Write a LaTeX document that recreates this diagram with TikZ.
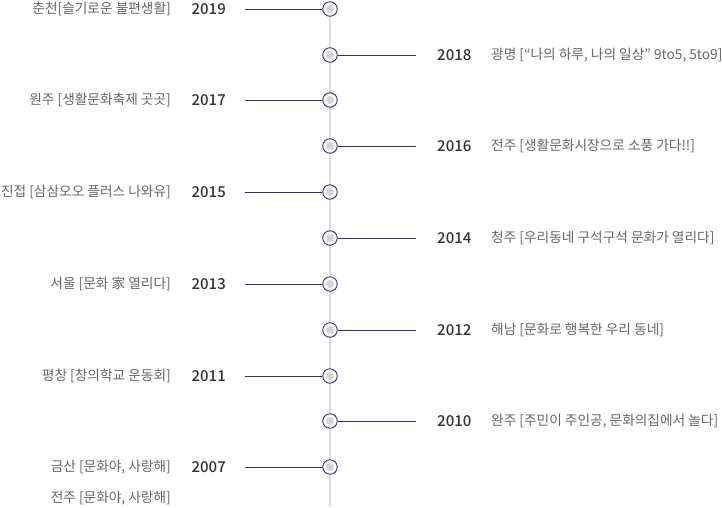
\documentclass[tikz,border=0pt]{standalone}
\usepackage{fontspec}
\setmainfont{Noto Sans CJK KR}
\newfontfamily\yearfont{Noto Sans CJK KR Medium}
\definecolor{navy}{HTML}{2E2F80}
\definecolor{txtgray}{HTML}{666666}
\definecolor{yrdark}{HTML}{333333}
\definecolor{axisgray}{HTML}{DDDDDD}
\definecolor{dotgray}{HTML}{D5D5D5}
\tikzset{
  x=1pt,y=-1pt,
  yearlbl/.style={font=\yearfont\fontsize{15}{15}\selectfont, text=yrdark, inner sep=0pt},
  desclbl/.style={font=\fontsize{13.7}{13.7}\selectfont, text=txtgray, inner sep=0pt},
  conn/.style={draw=navy, line width=0.9pt}
}
\newcommand{\tlpoint}[2]{%
  \node[circle, draw=navy, fill=white, line width=0.9pt, minimum size=14.5pt, inner sep=0pt] (#1) at (330,#2) {};
  \fill[dotgray] (330,#2) circle (4pt);
}
\begin{document}
\begin{tikzpicture}
\useasboundingbox (0,0) rectangle (722,507);
\draw[axisgray, line width=2pt] (330,9) -- (330,507);
% points
\tlpoint{p2019}{9}
\tlpoint{p2018}{55}
\tlpoint{p2017}{100}
\tlpoint{p2016}{146}
\tlpoint{p2015}{192}
\tlpoint{p2014}{238}
\tlpoint{p2013}{284}
\tlpoint{p2012}{330}
\tlpoint{p2011}{376}
\tlpoint{p2010}{421}
\tlpoint{p2007}{467}
% left entries
\foreach \n/\yy/\txt in {2019/9/{춘천[슬기로운 불편생활]}, 2017/100/{원주 [생활문화축제 곳곳]}, 2015/192/{진접 [삼삼오오 플러스 나와유]}, 2013/284/{서울 [문화 家 열리다]}, 2011/376/{평창 [창의학교 운동회]}, 2007/467/{금산 [문화야, 사랑해]}}{
  \coordinate (l\n) at (245,\yy);
  \draw[conn] (l\n) -- (p\n.west);
  \node[yearlbl, anchor=east] (y\n) at (226,\yy) {\n};
  \node[desclbl, anchor=east] (d\n) at (171,\yy) {\txt};
}
% right entries
\foreach \n/\yy/\txt in {2018/55/{광명 [“나의 하루, 나의 일상” 9to5, 5to9]}, 2016/146/{전주 [생활문화시장으로 소풍 가다!!]}, 2014/238/{청주 [우리동네 구석구석 문화가 열리다]}, 2012/330/{해남 [문화로 행복한 우리 동네]}, 2010/421/{완주 [주민이 주인공, 문화의집에서 놀다]}}{
  \coordinate (r\n) at (416,\yy);
  \draw[conn] (p\n.east) -- (r\n);
  \node[yearlbl, anchor=west] (y\n) at (437,\yy) {\n};
  \node[desclbl, anchor=west] (d\n) at (491,\yy) {\txt};
}
\node[desclbl, anchor=east] (dextra) at (171,498) {전주 [문화야, 사랑해]};
\end{tikzpicture}
\end{document}
